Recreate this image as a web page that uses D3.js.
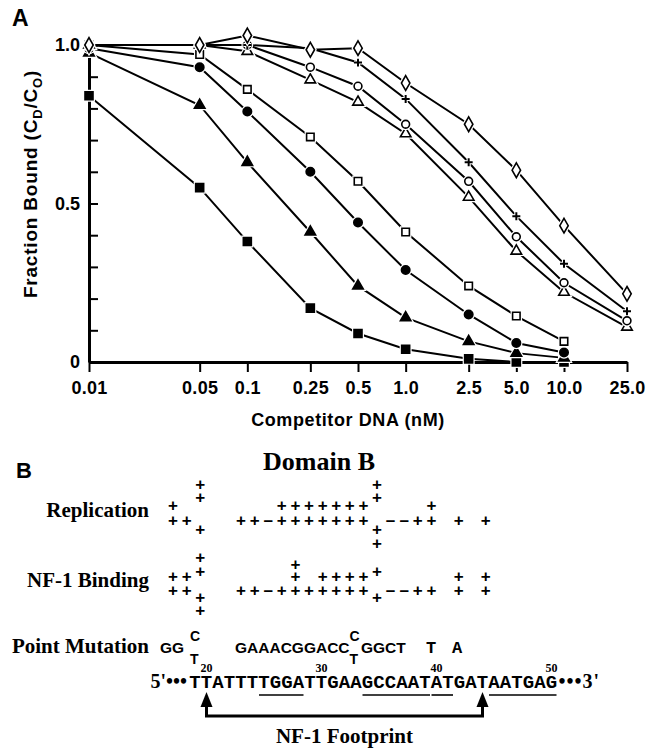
<!DOCTYPE html>
<html>
<head>
<meta charset="utf-8">
<title>Competitor DNA / Domain B</title>
<script src="https://d3js.org/d3.v7.min.js"></script>
<style>
  html, body {margin: 0; background: #fff;}
  svg {display: block;}
  .sans {font-family: "Liberation Sans", Arial, sans-serif;}
  .serif {font-family: "Liberation Serif", "Times New Roman", serif; font-weight: bold;}
  .mono {font-family: "Liberation Mono", "Courier New", monospace; font-weight: bold;}
</style>
</head>
<body>
<script>
// ---- panel A data ----
var concentrations = [0.01, 0.05, 0.1, 0.25, 0.5, 1.0, 2.5, 5.0, 10.0, 25.0];
var tickLabels = ["0.01", "0.05", "0.1", "0.25", "0.5", "1.0", "2.5", "5.0", "10.0", "25.0"];
var yTickValues = [0, 0.1, 0.2, 0.3, 0.4, 0.5, 0.6, 0.7, 0.8, 0.9, 1.0];
var yTickLabels = {"0": "0", "0.5": "0.5", "1": "1.0"};

var filledSquare   = [0.84, 0.55, 0.38, 0.17, 0.09, 0.04, 0.01, 0.0, 0.0];
var filledTriangle = [0.975, 0.81, 0.63, 0.41, 0.24, 0.14, 0.065, 0.028, 0.013];
var filledCircle   = [0.99, 0.93, 0.79, 0.60, 0.44, 0.29, 0.15, 0.06, 0.03];
var openSquare     = [1.0, 0.97, 0.86, 0.71, 0.57, 0.41, 0.24, 0.145, 0.065];
var openTriangle   = [1.0, 1.0, 0.98, 0.89, 0.82, 0.72, 0.52, 0.35, 0.22, 0.11];
var openCircle     = [1.0, 1.0, 1.0, 0.93, 0.87, 0.75, 0.57, 0.395, 0.25, 0.13];
var plusSeries     = [1.0, 1.0, 1.0, 0.99, 0.945, 0.83, 0.63, 0.46, 0.31, 0.16];
var diamondSeries  = [1.0, 1.0, 1.03, 0.985, 0.99, 0.88, 0.75, 0.605, 0.43, 0.215];

// ---- panel B data ----
var firstPos = 19;
var sequence = "TTATTTTGGATTGAAGCCAATATGATAATGAG";
var numberedPositions = [20, 30, 40, 50];
var underlined = [[25, 28], [34, 39], [40, 41], [45, 50]];
var footprint = [20, 44];

// each string: index 0 = position 19
var replicationLevels = [-2.55, -1.65, -1.07, 0, 0.62, 1.6];
var replicationRows = [
  "  +            +        ",
  "  +            +        ",
  "+       +++++++    +    ",
  "++   ++-+++++++ --++ + +",
  "  +            +        ",
  "               +        "
];
var bindingLevels = [-2.35, -1.85, -1.4, -1, 0, 0.5, 1.45];
var bindingRows = [
  "  +                     ",
  "         +              ",
  "  +            +        ",
  "++       + ++++      + +",
  "++   ++-+++++++ --++ + +",
  "  +            +        ",
  "  +                     "
];
var mutations = [
  {pos: 19, text: "GG"},
  {pos: 21, up: "C", down: "T"},
  {pos: 24, text: "GAAACGGACC"},
  {pos: 34, up: "C", down: "T"},
  {pos: 35, text: "GGCT"},
  {pos: 40, text: "T", mono: true},
  {pos: 42, text: "A", mono: true}
];

// ---- layout ----
var width = 663, height = 748;
var svg = d3.select("body").append("svg")
  .attr("width", width)
  .attr("height", height);

var x = d3.scaleLog().domain([0.01, 25]).range([89, 627]);
var y = d3.scaleLinear().domain([0, 1]).range([362, 45]);

svg.append("text").attr("class", "sans")
  .attr("x", 12).attr("y", 26)
  .attr("font-size", 23).attr("font-weight", "bold")
  .text("A");

// axes
var xAxis = d3.axisBottom(x)
  .tickValues(concentrations)
  .tickFormat(function(d, i) { return tickLabels[i]; })
  .tickSizeInner(10).tickSizeOuter(0).tickPadding(9);

var gx = svg.append("g")
  .attr("transform", "translate(0," + y(0) + ")")
  .call(xAxis);
gx.select(".domain").attr("stroke-width", 3);
gx.selectAll(".tick line").attr("stroke-width", 2);
gx.selectAll(".tick text")
  .attr("class", "sans")
  .attr("font-size", 18)
  .attr("font-weight", "bold")
  .attr("letter-spacing", 0.3)
  .attr("fill", "#000");

var yAxis = d3.axisLeft(y)
  .tickValues(yTickValues)
  .tickFormat(function(d) { return yTickLabels[String(+d.toFixed(1))] || ""; })
  .tickSizeInner(-9).tickSizeOuter(0).tickPadding(9);

var gy = svg.append("g")
  .attr("transform", "translate(" + x(0.01) + ",0)")
  .call(yAxis);
gy.select(".domain").attr("stroke-width", 3);
gy.selectAll(".tick line").attr("stroke-width", 2);
gy.selectAll(".tick text")
  .attr("class", "sans")
  .attr("font-size", 18)
  .attr("font-weight", "bold")
  .attr("fill", "#000");
gx.attr("font-family", null);
gy.attr("font-family", null);

// axis titles
svg.append("text").attr("class", "sans")
  .attr("x", 348).attr("y", 426)
  .attr("text-anchor", "middle")
  .attr("font-size", 18).attr("font-weight", "bold")
  .attr("letter-spacing", 0.6)
  .text("Competitor DNA (nM)");

var yt = svg.append("text").attr("class", "sans")
  .attr("transform", "translate(37,184) rotate(-90)")
  .attr("text-anchor", "middle")
  .attr("font-size", 19).attr("font-weight", "bold")
  .attr("letter-spacing", 0.8);
yt.append("tspan").text("Fraction Bound (C");
yt.append("tspan").attr("font-size", 13).attr("dy", 5).text("D");
yt.append("tspan").attr("dy", -5).text("/C");
yt.append("tspan").attr("font-size", 13).attr("dy", 5).text("O");
yt.append("tspan").attr("dy", -5).text(")");

// series
var series = [
  {values: filledSquare,   shape: d3.symbolSquare,   size: 64, fill: "#000"},
  {values: filledTriangle, shape: d3.symbolTriangle, size: 48, fill: "#000"},
  {values: filledCircle,   shape: d3.symbolCircle,   size: 56, fill: "#000"},
  {values: openSquare,     shape: d3.symbolSquare,   size: 56, fill: "#fff"},
  {values: openTriangle,   shape: d3.symbolTriangle, size: 48, fill: "#fff"},
  {values: openCircle,     shape: d3.symbolCircle,   size: 48, fill: "#fff"},
  {values: plusSeries,     shape: "plus",            size: 4,  fill: "none"},
  {values: diamondSeries,  shape: d3.symbolDiamond,  size: 62, fill: "#fff"}
];

var line = d3.line()
  .x(function(d, i) { return x(concentrations[i]); })
  .y(function(d) { return y(d); });

var plot = svg.append("g");

series.forEach(function(s) {
  plot.append("path")
    .attr("d", line(s.values))
    .attr("fill", "none")
    .attr("stroke", "#000")
    .attr("stroke-width", 2);
});

function markerPath(s) {
  if (s.shape === "plus") {
    var a = s.size;
    return "M" + (-a) + ",0H" + a + "M0," + (-a) + "V" + a;
  }
  return d3.symbol().type(s.shape).size(s.size)();
}

series.forEach(function(s) {
  var g = plot.append("g");
  var pts = g.selectAll("g")
    .data(s.values)
    .enter().append("g")
    .attr("transform", function(d, i) {
      return "translate(" + x(concentrations[i]) + "," + y(d) + ")";
    });
  pts.append("path")
    .attr("d", markerPath(s))
    .attr("fill", "none")
    .attr("stroke", "#fff")
    .attr("stroke-width", 4);
  pts.append("path")
    .attr("d", markerPath(s))
    .attr("fill", s.fill)
    .attr("stroke", "#000")
    .attr("stroke-width", s.shape === "plus" ? 2 : 1.6);
});

// ---- panel B ----
svg.append("text").attr("class", "sans")
  .attr("x", 16).attr("y", 478)
  .attr("font-size", 22).attr("font-weight", "bold")
  .text("B");

svg.append("text").attr("class", "serif")
  .attr("x", 319).attr("y", 470)
  .attr("text-anchor", "middle")
  .attr("font-size", 26)
  .text("Domain B");

// column scales: +/- marks, mutation row (set by hand, uneven), sequence
var markX = d3.scaleLinear().domain([19, 42]).range([173, 173 + 23 * 13.6]);
var mutX = d3.scaleLinear().domain([19, 24, 35, 42]).range([160, 235, 361, 452]);
var seqX = d3.scaleLinear().domain([19, 50]).range([195, 195 + 31 * 11.5]);
var unit = 14;

function rowLabel(text, yy) {
  svg.append("text").attr("class", "serif")
    .attr("x", 149).attr("y", yy)
    .attr("text-anchor", "end")
    .attr("font-size", 21)
    .text(text);
}

function drawMarks(rows, levels, baseY) {
  var cells = [];
  rows.forEach(function(r, k) {
    r.split("").forEach(function(ch, i) {
      if (ch !== " ") cells.push({pos: firstPos + i, level: levels[k], ch: ch});
    });
  });
  svg.append("g").selectAll("text")
    .data(cells)
    .enter().append("text")
    .attr("class", "sans")
    .attr("x", function(d) { return markX(d.pos); })
    .attr("y", function(d) { return baseY + d.level * unit; })
    .attr("dy", "0.36em")
    .attr("text-anchor", "middle")
    .attr("font-size", 17)
    .attr("font-weight", "bold")
    .text(function(d) { return d.ch === "-" ? "\u2013" : "+"; });
}

rowLabel("Replication", 517);
drawMarks(replicationRows, replicationLevels, 520);

rowLabel("NF-1 Binding", 587);
drawMarks(bindingRows, bindingLevels, 590);

var mutY = 653;
rowLabel("Point Mutation", mutY);
var mg = svg.append("g").selectAll("g")
  .data(mutations)
  .enter().append("g")
  .attr("transform", function(d) { return "translate(" + mutX(d.pos) + "," + mutY + ")"; });
mg.filter(function(d) { return d.text; })
  .append("text")
  .attr("class", function(d) { return d.mono ? "mono" : "sans"; })
  .attr("font-size", function(d) { return d.mono ? 17 : 15.5; })
  .attr("font-weight", "bold")
  .text(function(d) { return d.text; });
mg.filter(function(d) { return d.up; })
  .append("text")
  .attr("class", "sans").attr("font-weight", "bold")
  .attr("font-size", 14).attr("y", -12)
  .text(function(d) { return d.up; });
mg.filter(function(d) { return d.down; })
  .append("text")
  .attr("class", "sans").attr("font-weight", "bold")
  .attr("font-size", 14).attr("y", 11)
  .text(function(d) { return d.down; });

// sequence
var seqY = 688;
var seqChars = sequence.split("").map(function(ch, i) { return {pos: firstPos + i, ch: ch}; });
svg.append("g").selectAll("text")
  .data(seqChars)
  .enter().append("text")
  .attr("class", "mono")
  .attr("x", function(d) { return seqX(d.pos); })
  .attr("y", seqY)
  .attr("text-anchor", "middle")
  .attr("font-size", 19)
  .text(function(d) { return d.ch; });

svg.append("text").attr("class", "serif")
  .attr("x", seqX(19) - 8).attr("y", seqY)
  .attr("text-anchor", "end")
  .attr("font-size", 20)
  .text("5'\u2022\u2022\u2022");
svg.append("text").attr("class", "serif")
  .attr("x", seqX(50) + 7).attr("y", seqY)
  .attr("font-size", 20)
  .attr("letter-spacing", 1)
  .text("\u2022\u2022\u20223'");

svg.append("g").selectAll("text")
  .data(numberedPositions)
  .enter().append("text")
  .attr("class", "serif")
  .attr("x", function(d) { return seqX(d); })
  .attr("y", seqY - 16)
  .attr("text-anchor", "middle")
  .attr("font-size", 12)
  .text(function(d) { return d; });

svg.append("g").selectAll("line")
  .data(underlined)
  .enter().append("line")
  .attr("x1", function(d) { return seqX(d[0]) - 5; })
  .attr("x2", function(d) { return seqX(d[1]) + 5; })
  .attr("y1", seqY + 7).attr("y2", seqY + 7)
  .attr("stroke", "#000").attr("stroke-width", 1.6);

// footprint bracket
var brY = 716, tipY = seqY + 4;
svg.append("path")
  .attr("d", "M" + seqX(footprint[0]) + "," + (tipY + 12) + "V" + brY +
             "H" + seqX(footprint[1]) + "V" + (tipY + 12))
  .attr("fill", "none").attr("stroke", "#000").attr("stroke-width", 3);
svg.append("g").selectAll("path")
  .data(footprint)
  .enter().append("path")
  .attr("d", function(d) {
    var cx = seqX(d);
    return "M" + cx + "," + tipY + "L" + (cx - 6) + "," + (tipY + 15) +
           "L" + (cx + 6) + "," + (tipY + 15) + "Z";
  })
  .attr("fill", "#000");

svg.append("text").attr("class", "serif")
  .attr("x", (seqX(footprint[0]) + seqX(footprint[1])) / 2)
  .attr("y", 743)
  .attr("text-anchor", "middle")
  .attr("font-size", 21)
  .text("NF-1 Footprint");
</script>
</body>
</html>
